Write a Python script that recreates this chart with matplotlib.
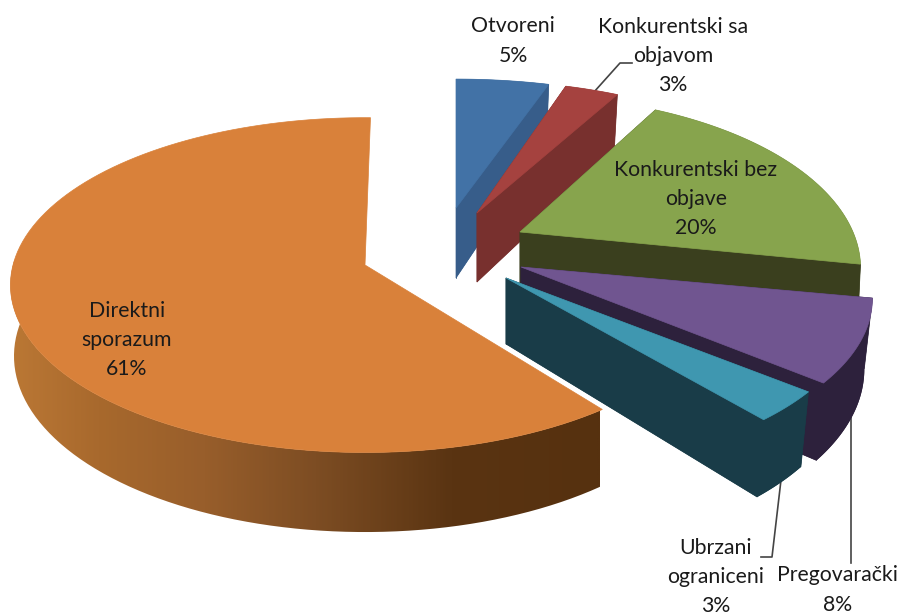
import numpy as np
import matplotlib
matplotlib.use('Agg')
import matplotlib.pyplot as plt
from matplotlib.colors import LinearSegmentedColormap
from matplotlib.patches import Polygon

# share of each procedure, clockwise from the top of the pie
categories = ['Otvoreni', 'Konkurentski sa objavom', 'Konkurentski bez objave',
              'Pregovarački', 'Ubrzani ograniceni', 'Direktni sporazum']
shares = [5, 3, 20, 8, 3, 61]

top_colors = ['#4272a6', '#a5423f', '#87a44d', '#705590', '#3f97b0', '#d9813a']
side_colors = ['#375d8a', '#78302e', '#3a3f1e', '#2d213c', '#193c48', '#56310f']

# label text, x, y of the centre of the text block
label_text = ['Otvoreni\n5%', 'Konkurentski sa\nobjavom\n3%', 'Konkurentski bez\nobjave\n20%',
              'Pregovarački\n8%', 'Ubrzani\nograniceni\n3%', 'Direktni\nsporazum\n61%']
label_x = [513, 673, 696, 838, 716, 127]
label_y = [41, 56, 199, 590, 577, 340]

# how each exploded slice sits on the page
apex_x = [456, 477, 520, 521, 506, 365]
apex_y = [208, 213, 232, 267, 278, 265]
radius_x = [360, 345, 333, 345, 345, 352]
radius_y = [156, 160, 165, 160, 157, 165]
persp = [0.21, 0.21, 0.21, 0.19, 0.19, 0.12]
rot_start = [0, 0, 0, 0, 0, 2]
rot_end = [0, 0, 0, 0, 0, 1]
depth = [70, 69, 70, 68, 66, 70]
shrink = [0.977, 0.977, 0.99, 0.977, 0.975, 0.99]   # bottom face is a bit narrower


def slice_points(i, theta):
    w = 1 + persp[i] * np.cos(theta)
    x = apex_x[i] + radius_x[i] * np.sin(theta) / w
    y = apex_y[i] - radius_y[i] * np.cos(theta) / w
    return x, y, w


fig = plt.figure(figsize=(9.03, 6.15), dpi=100)
ax = fig.add_axes([0, 0, 1, 1])
ax.set_xlim(0, 903)
ax.set_ylim(615, 0)
ax.axis('off')

edges = np.cumsum([0] + shares) / sum(shares) * 2 * np.pi

# orange goes first, the others stack up on it from back to front
for i in [5, 0, 1, 2, 3, 4]:
    theta = np.linspace(edges[i] + np.radians(rot_start[i]), edges[i + 1] + np.radians(rot_end[i]), 120)
    x, y, w = slice_points(i, theta)
    top = np.column_stack([np.r_[apex_x[i], x], np.r_[apex_y[i], y]])

    low = top.copy()
    low[1:, 1] = low[1:, 1] + depth[i] / w
    low[0, 1] = low[0, 1] + depth[i]
    low[:, 0] = apex_x[i] + (low[:, 0] - apex_x[i]) * shrink[i]

    if i == 5:
        # only the front rim shows, with a gradient along it
        front = np.r_[False, theta < np.radians(275)]
        wall = np.r_[top[front], low[front][::-1]]
        patch = Polygon(wall, closed=True, fc='none', ec='none')
        ax.add_patch(patch)
        cmap = LinearSegmentedColormap.from_list('rim', [(0, '#bb7835'), (0.15, '#a8692d'), (0.33, '#985e2b'),
                                                         (0.52, '#7d4d23'), (0.75, '#5a3412'), (1, '#56310f')])
        im = ax.imshow(np.linspace(0, 1, 300).reshape(1, -1), extent=[8, 600, 540, 260], cmap=cmap, aspect='auto', zorder=1)
        im.set_clip_path(patch)
        ax.set_xlim(0, 903)
        ax.set_ylim(615, 0)
    else:
        # extrude the slice: bottom face plus a wall for each edge of it
        ax.add_patch(Polygon(low, closed=True, fc=side_colors[i], ec='none', zorder=2))
        for j in [1, len(top) - 1]:
            q = [top[0], top[j], low[j], low[0]]
            ax.add_patch(Polygon(q, closed=True, fc=side_colors[i], ec=side_colors[i], lw=0.5, zorder=2))
        rim = np.r_[top[1:], low[:0:-1]]
        ax.add_patch(Polygon(rim, closed=True, fc=side_colors[i], ec='none', zorder=2))
    ax.add_patch(Polygon(top, closed=True, fc=top_colors[i], ec=top_colors[i], lw=0.5, zorder=2))

# leader lines, tucked under the slices
ax.plot([594, 620, 632], [92, 63, 63], color='#444444', lw=1.2, zorder=1.5)
ax.plot([781, 772, 761], [480, 557, 557], color='#444444', lw=1.2, zorder=1.5)
ax.plot([851, 851], [410, 563], color='#444444', lw=1.2, zorder=1.5)

for t, lx, ly in zip(label_text, label_x, label_y):
    ax.text(lx, ly, t, ha='center', va='center', family='Lato', fontsize=15.3,
            linespacing=1.58, color='#1a1a1a', zorder=4)

fig.savefig('out.png', dpi=100)
